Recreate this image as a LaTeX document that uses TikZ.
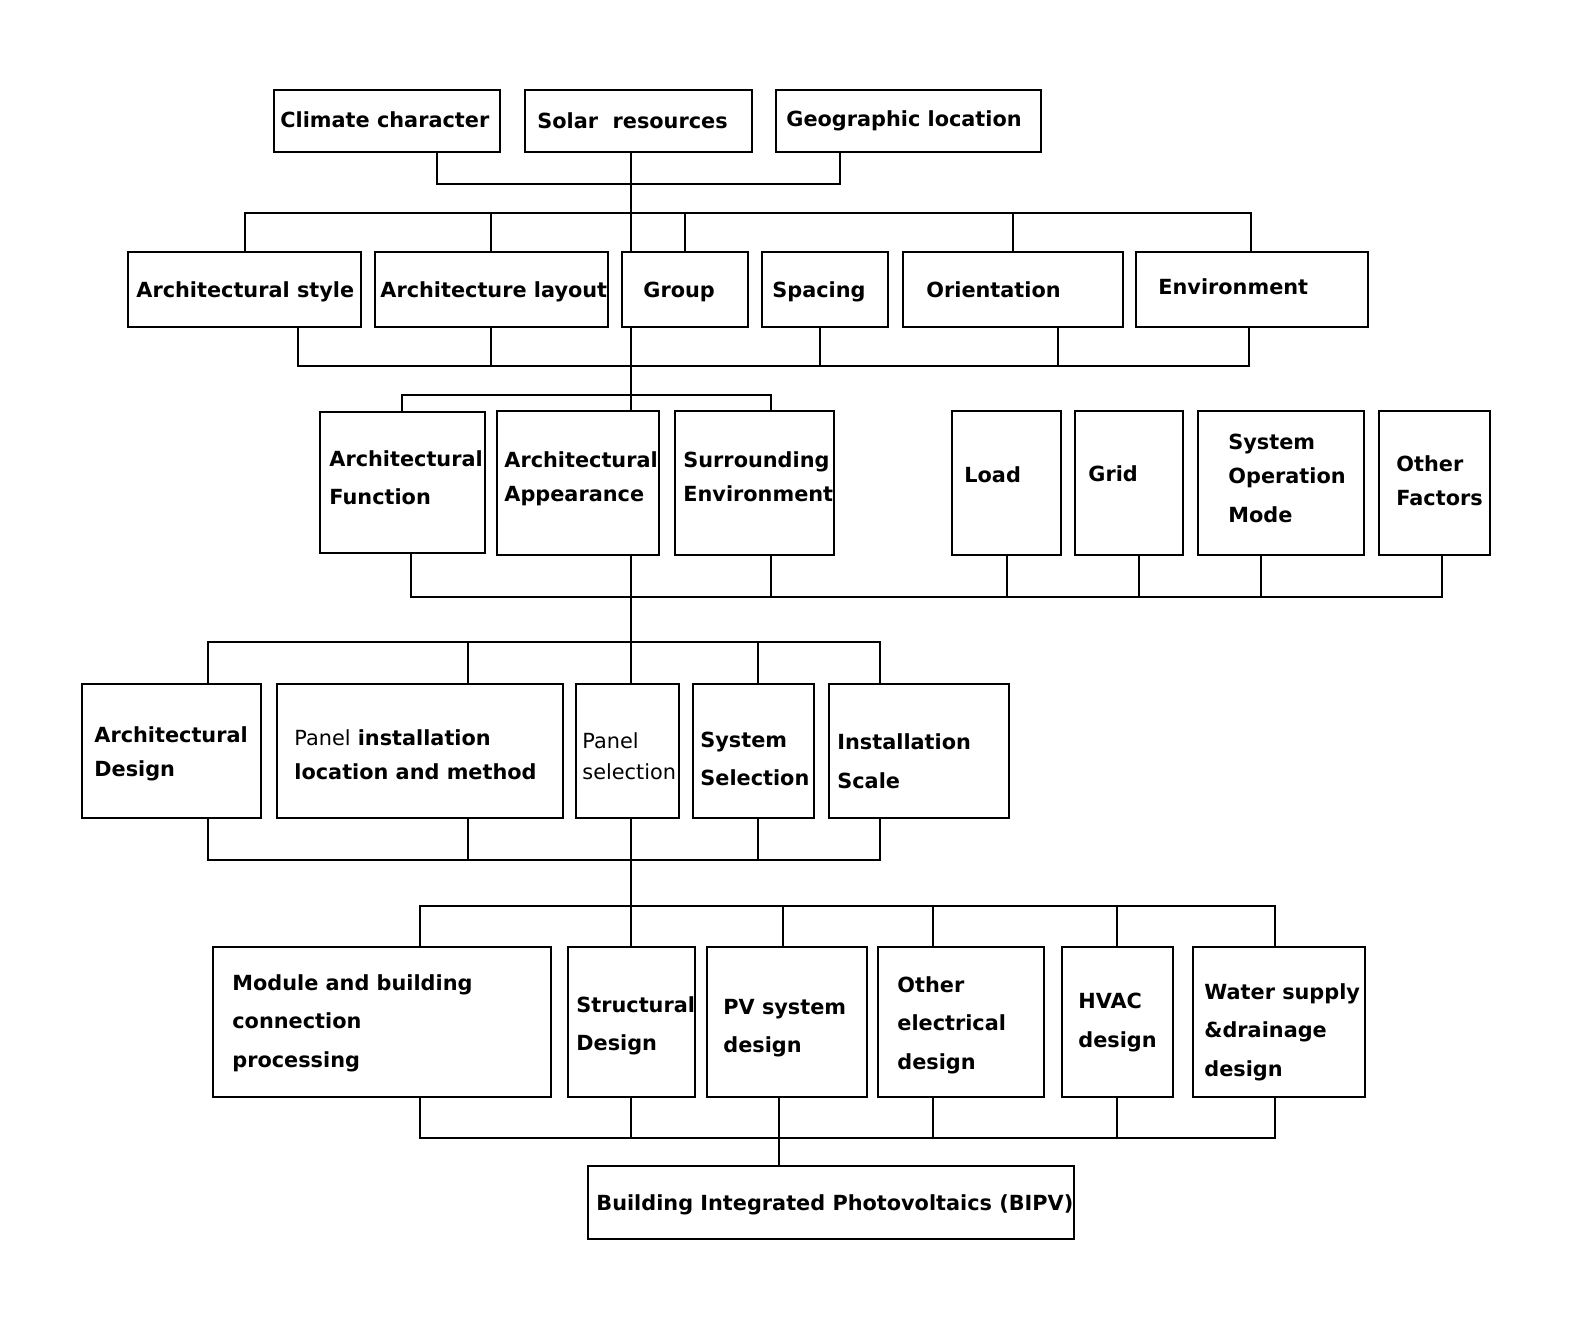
\documentclass[tikz,border=0pt]{standalone}
\usepackage{fontspec}
\setmainfont{DejaVu Sans}
\newcommand\mybox[5]{% name, x1, y1, x2, y2
  \node[box, minimum width={(#4-#2)*0.5bp}, minimum height={(#5-#3)*0.5bp}] (#1) at ({(#2+#4)/2},{(#3+#5)/2}) {};}
\newcommand\txtline[4]{\node[txt] (#1) at (#2,{#3+7}) {#4};}
\begin{document}
\begin{tikzpicture}[x=0.5bp,y=-0.5bp,
  box/.style={draw, line width=0.85pt, rectangle, inner sep=0pt, outer sep=0pt},
  txt/.style={font=\bfseries\fontsize{10.45}{12}\selectfont, inner sep=0pt, anchor=base west},
  link/.style={draw, line width=0.65pt}]
\useasboundingbox (0,0) rectangle (1577,1318);
\fill[white] (0,0) rectangle (1577,1318);
\coordinate (T) at (631,0);
% ---------- boxes ----------
\mybox{cc}{274}{90}{500}{152}
\mybox{sr}{525}{90}{752}{152}
\mybox{geo}{776}{90}{1041}{152}
\mybox{as}{128}{252}{361}{327}
\mybox{al}{375}{252}{608}{327}
\mybox{gr}{622}{252}{748}{327}
\mybox{sp}{762}{252}{888}{327}
\mybox{ori}{903}{252}{1123}{327}
\mybox{env}{1136}{252}{1368}{327}
\mybox{af}{320}{412}{485}{553}
\mybox{aa}{497}{411}{659}{555}
\mybox{se}{675}{411}{834}{555}
\mybox{load}{952}{411}{1061}{555}
\mybox{grid}{1075}{411}{1183}{555}
\mybox{som}{1198}{411}{1364}{555}
\mybox{of}{1379}{411}{1490}{555}
\mybox{ad}{82}{684}{261}{818}
\mybox{pil}{277}{684}{563}{818}
\mybox{ps}{576}{684}{679}{818}
\mybox{ss}{693}{684}{814}{818}
\mybox{is}{829}{684}{1009}{818}
\mybox{mb}{213}{947}{551}{1097}
\mybox{sd}{568}{947}{695}{1097}
\mybox{pv}{707}{947}{867}{1097}
\mybox{oe}{878}{947}{1044}{1097}
\mybox{hv}{1062}{947}{1173}{1097}
\mybox{ws}{1193}{947}{1365}{1097}
\mybox{bipv}{588}{1166}{1074}{1239}
% ---------- texts ----------
\txtline{tcc}{280}{121}{Climate character}
\txtline{tsr}{537}{122}{Solar\ \ resources}
\txtline{tgeo}{786}{120}{Geographic location}
\txtline{tas}{136}{291}{Architectural style}
\txtline{tal}{380}{291}{Architecture layout}
\txtline{tgr}{643}{291}{Group}
\txtline{tsp}{772}{291}{Spacing}
\txtline{tori}{926}{291}{Orientation}
\txtline{tenv}{1158}{288}{Environment}
\txtline{taf1}{329}{459}{Architectural}
\txtline{taf2}{329}{497}{Function}
\txtline{taa1}{504}{460}{Architectural}
\txtline{taa2}{504}{494}{Appearance}
\txtline{tse1}{683}{460}{Surrounding}
\txtline{tse2}{683}{494}{Environment}
\txtline{tload}{964}{475}{Load}
\txtline{tgrid}{1088}{474}{Grid}
\txtline{tsom1}{1228}{442}{System}
\txtline{tsom2}{1228}{476}{Operation}
\txtline{tsom3}{1228}{515}{Mode}
\txtline{tof1}{1396}{464}{Other}
\txtline{tof2}{1396}{498}{Factors}
\txtline{tad1}{94}{735}{Architectural}
\txtline{tad2}{94}{769}{Design}
\txtline{tpil1}{294}{738}{{\mdseries Panel} installation}
\txtline{tpil2}{294}{772}{location and method}
\txtline{tps1}{582}{741}{\mdseries Panel}
\txtline{tps2}{582}{772}{\mdseries selection}
\txtline{tss1}{700}{740}{System}
\txtline{tss2}{700}{778}{Selection}
\txtline{tis1}{837}{742}{Installation}
\txtline{tis2}{837}{781}{Scale}
\txtline{tmb1}{232}{983}{Module and building}
\txtline{tmb2}{232}{1021}{connection}
\txtline{tmb3}{232}{1060}{processing}
\txtline{tsd1}{576}{1005}{Structural}
\txtline{tsd2}{576}{1043}{Design}
\txtline{tpv1}{723}{1007}{PV system}
\txtline{tpv2}{723}{1045}{design}
\txtline{toe1}{897}{985}{Other}
\txtline{toe2}{897}{1023}{electrical}
\txtline{toe3}{897}{1062}{design}
\txtline{thv1}{1078}{1001}{HVAC}
\txtline{thv2}{1078}{1040}{design}
\txtline{tws1}{1204}{992}{Water supply}
\txtline{tws2}{1204}{1030}{\&drainage}
\txtline{tws3}{1204}{1069}{design}
\txtline{tbipv}{596}{1203}{Building Integrated Photovoltaics (BIPV)}
% ---------- connectors ----------
% row 1 -> row 2
\draw[link] (437,0 |- cc.south) |- (840,184) -- (840,0 |- geo.south);
\draw[link] (T |- sr.south) -- (T |- gr.north);
\draw[link] (245,0 |- as.north) |- (1251,213) -- (1251,0 |- env.north);
\draw[link] (491,213) -- (491,0 |- al.north);
\draw[link] (685,213) -- (685,0 |- gr.north);
\draw[link] (1013,213) -- (1013,0 |- ori.north);
% row 2 -> row 3
\draw[link] (298,0 |- as.south) |- (1249,366) -- (1249,0 |- env.south);
\draw[link] (491,0 |- al.south) -- (491,366);
\draw[link] (820,0 |- sp.south) -- (820,366);
\draw[link] (1058,0 |- ori.south) -- (1058,366);
\draw[link] (T |- gr.south) -- (T |- aa.north);
\draw[link] (402,0 |- af.north) |- (771,395) -- (771,0 |- se.north);
% row 3 -> row 4
\draw[link] (411,0 |- af.south) |- (1442,597) -- (1442,0 |- of.south);
\draw[link] (771,0 |- se.south) -- (771,597);
\draw[link] (1007,0 |- load.south) -- (1007,597);
\draw[link] (1139,0 |- grid.south) -- (1139,597);
\draw[link] (1261,0 |- som.south) -- (1261,597);
\draw[link] (T |- aa.south) -- (T |- ps.north);
\draw[link] (208,0 |- ad.north) |- (880,642) -- (880,0 |- is.north);
\draw[link] (468,642) -- (468,0 |- pil.north);
\draw[link] (758,642) -- (758,0 |- ss.north);
% row 4 -> row 5
\draw[link] (208,0 |- ad.south) |- (880,860) -- (880,0 |- is.south);
\draw[link] (468,0 |- pil.south) -- (468,860);
\draw[link] (758,0 |- ss.south) -- (758,860);
\draw[link] (T |- ps.south) -- (T |- sd.north);
\draw[link] (420,0 |- mb.north) |- (1275,906) -- (1275,0 |- ws.north);
\draw[link] (783,906) -- (783,0 |- pv.north);
\draw[link] (933,906) -- (933,0 |- oe.north);
\draw[link] (1117,906) -- (1117,0 |- hv.north);
% row 5 -> BIPV
\draw[link] (420,0 |- mb.south) |- (1275,1138) -- (1275,0 |- ws.south);
\draw[link] (T |- sd.south) -- (T |- 0,1138);
\draw[link] (933,0 |- oe.south) -- (933,1138);
\draw[link] (1117,0 |- hv.south) -- (1117,1138);
\draw[link] (779,0 |- pv.south) -- (779,0 |- bipv.north);
\end{tikzpicture}
\end{document}
